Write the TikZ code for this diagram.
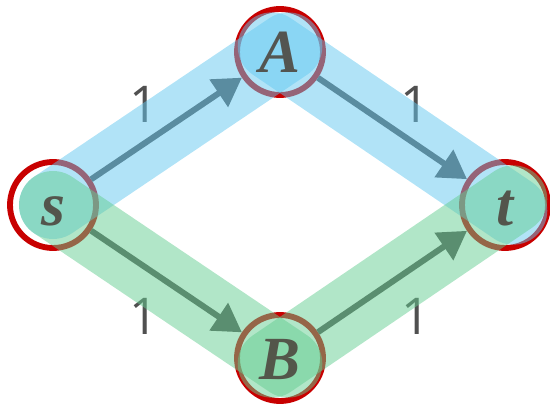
\documentclass[tikz,border=0pt]{standalone}
\usepackage{fontspec}
\newfontfamily\numfont{Open Sans}
\newfontfamily\vertfont{Liberation Serif}
\usetikzlibrary{arrows.meta, positioning}

\definecolor{ringred}{RGB}{200,0,0}
\definecolor{inkgray}{RGB}{80,80,80}
\definecolor{letterink}{RGB}{78,72,64}
\definecolor{pathblue}{RGB}{100,200,240}
\definecolor{pathgreen}{RGB}{100,205,145}

\begin{document}
\begin{tikzpicture}[
      x=0.75pt, y=-0.75pt,
      vertex/.style={draw=ringred, circle, line width=4.4pt, minimum size=64.5pt, inner sep=0pt},
      vertex label/.style={inner sep=0pt, text height=31.5pt, text depth=0pt, text=letterink, text opacity=0.9, font=\vertfont\fontsize{46}{46}\selectfont\bfseries\itshape},
      link/.style={draw=inkgray, line width=4.5pt, -{Triangle[length=21pt, width=24pt]}},
      weight/.style={text=inkgray, font=\numfont\fontsize{38}{38}\selectfont},
      hlblue/.style={draw=pathblue, line width=51pt, line cap=round, draw opacity=0.5, shorten >=-7.5pt},
      hlgreen/.style={draw=pathgreen, line width=51pt, line cap=round, draw opacity=0.5, shorten >=-7.5pt}
  ]
      \useasboundingbox (0,0) rectangle (550,406);

      % Vertices
      \node [vertex] (s) at (53, 205) {};
      \node [vertex] (A) at (280, 52) {};
      \node [vertex] (B) at (280, 358) {};
      \node [vertex] (t) at (505, 205) {};

      % Edges with weights
      \path [link] (s) -- node[weight, shift={(-23,-24)}] {1} (A);
      \path [link] (A) -- node[weight, shift={(22,-24)}] {1} (t);
      \path [link] (s) -- node[weight, shift={(-23,35)}] {1} (B);
      \path [link] (B) -- node[weight, shift={(23,35)}] {1} (t);

      % Highlighted paths
      \draw [hlblue] (s.center) -- (A.center);
      \draw [hlblue, shorten <=-7.5pt] (A.center) -- (t.center);
      \draw [hlgreen] (s.center) -- (B.center);
      \draw [hlgreen, shorten <=-7.5pt] (B.center) -- (t.center);

      % Vertex names on top
      \node [vertex label] (s-name) at (s) {s};
      \node [vertex label] (A-name) at (A) {A};
      \node [vertex label] (B-name) at (B) {B};
      \node [vertex label] (t-name) at (t) {t};
  \end{tikzpicture}
\end{document}
